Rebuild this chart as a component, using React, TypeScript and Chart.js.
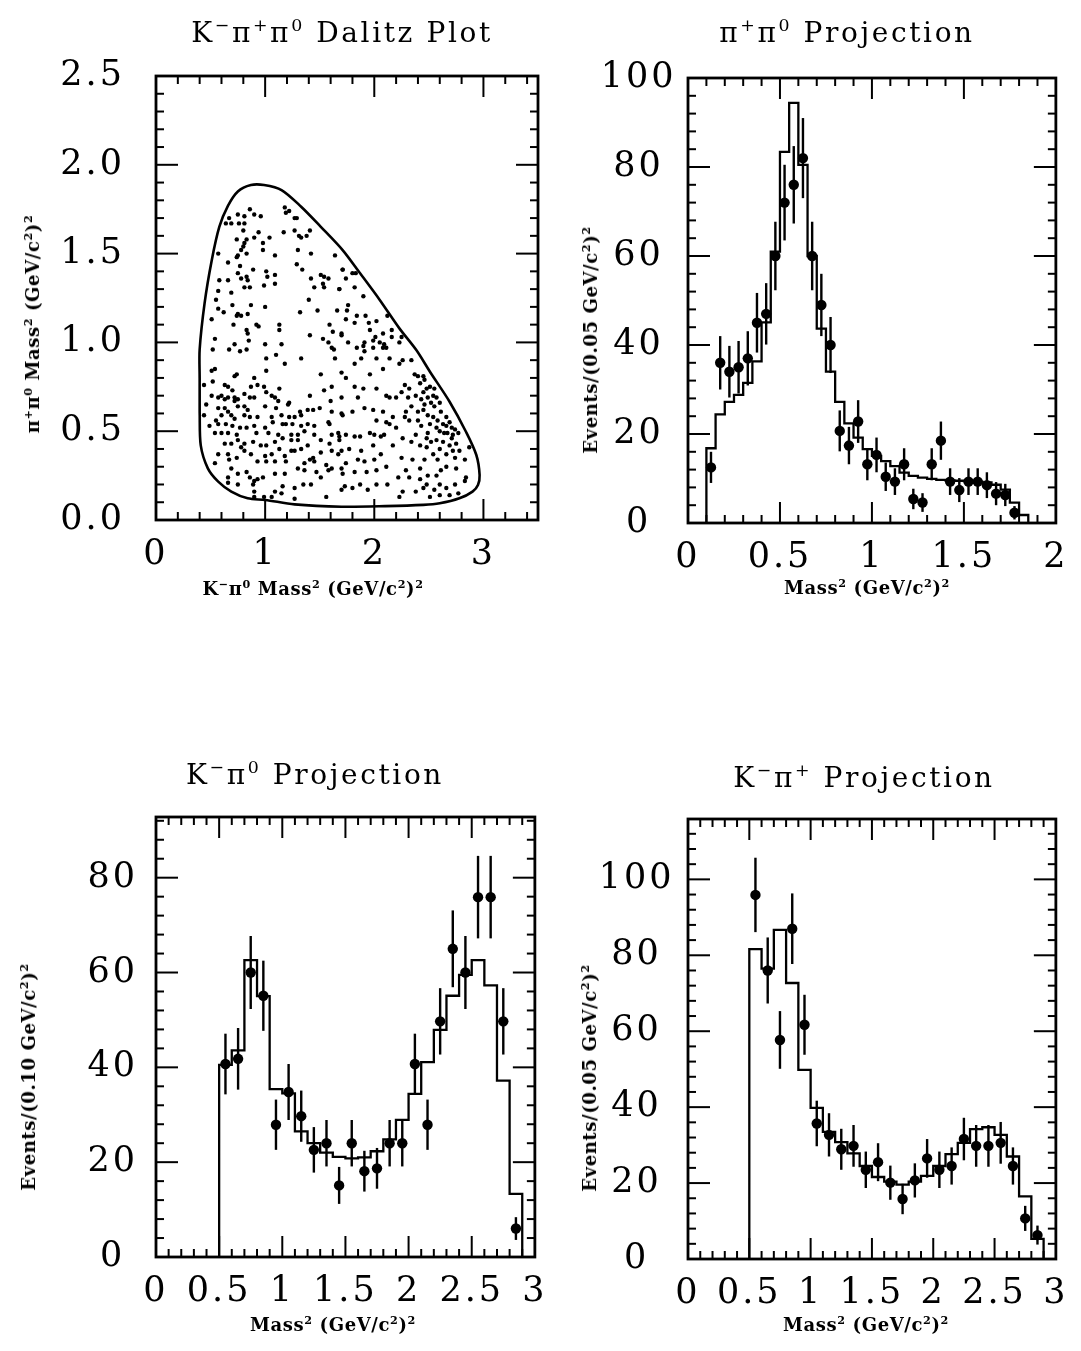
import React, { useEffect, useRef } from 'react';
import { Chart, registerables } from 'chart.js';

Chart.register(...registerables);

const SERIF = '"DejaVu Serif", serif';

// ---------------- Dalitz plot data ----------------
// [K-pi0 mass^2, pi+pi0 mass^2] of each event
const dalitzEvents: number[][] = [
  [0.86,1.75],[0.90,1.72],[0.75,1.72],[0.81,1.71],[0.96,1.71],[0.67,1.70],[0.64,1.67],[0.69,1.67],[0.76,1.67],[0.81,1.67],
  [1.18,1.76],[1.22,1.74],[1.19,1.73],[1.27,1.70],[1.29,1.70],[0.80,1.63],[0.94,1.62],[1.17,1.62],[1.27,1.63],[1.31,1.60],
  [1.33,1.59],[1.38,1.60],[1.41,1.63],[0.74,1.58],[0.83,1.58],[0.81,1.56],[0.90,1.59],[1.04,1.59],[0.98,1.56],[0.80,1.54],
  [0.78,1.52],[0.75,1.49],[0.74,1.48],[0.83,1.50],[0.98,1.52],[1.09,1.49],[1.30,1.52],[1.42,1.50],[1.64,1.49],[0.57,1.50],
  [0.66,1.45],[0.77,1.43],[0.89,1.41],[1.01,1.40],[1.02,1.37],[1.09,1.38],[1.29,1.44],[1.34,1.41],[1.71,1.41],[0.75,1.39],
  [0.58,1.35],[0.66,1.35],[0.78,1.36],[0.83,1.37],[0.84,1.35],[0.81,1.31],[0.86,1.31],[0.99,1.32],[1.09,1.33],[1.42,1.36],
  [1.51,1.38],[1.54,1.37],[1.58,1.36],[1.53,1.33],[1.54,1.31],[1.45,1.31],[1.68,1.30],[0.57,1.29],[0.69,1.28],[0.55,1.24],
  [0.70,1.21],[0.87,1.21],[1.00,1.20],[0.57,1.19],[0.62,1.17],[0.75,1.16],[0.74,1.15],[0.78,1.15],[0.84,1.16],[1.32,1.17],
  [1.40,1.24],[1.48,1.18],[1.66,1.18],[0.51,1.13],[0.71,1.10],[0.92,1.10],[0.94,1.09],[0.83,1.07],[0.84,1.05],[1.13,1.10],
  [1.13,1.07],[1.59,1.10],[1.62,1.06],[1.70,1.04],[1.41,1.04],[1.53,1.02],[1.58,1.00],[0.54,1.02],[0.72,0.99],[0.85,1.01],
  [1.00,0.99],[1.15,0.99],[1.61,0.97],
  [1.71,1.41],[1.80,1.39],[1.83,1.39],[1.74,1.36],[1.68,1.30],[1.82,1.31],[1.90,1.26],[1.76,1.21],[1.75,1.18],[1.84,1.15],
  [1.92,1.15],[2.02,1.12],[1.74,1.13],[1.82,1.11],[1.95,1.11],[1.96,1.07],[2.08,1.05],[2.16,1.07],[2.16,1.03],[1.70,1.05],
  [1.76,1.00],[1.91,1.00],[1.90,0.98],[1.99,1.01],[2.01,1.03],[2.05,1.00],[2.09,0.99],[2.23,1.00],[2.25,1.03],[2.12,1.15],
  [1.84,0.97],[2.11,0.97],
  [0.52,0.96],[0.67,0.96],[0.77,0.95],[0.83,0.96],[1.01,0.91],[1.10,0.93],[1.18,0.88],[1.33,0.91],[1.63,0.96],[1.64,0.91],
  [0.54,0.85],[0.51,0.84],[1.01,0.84],[1.70,0.83],[1.51,0.82],[0.72,0.81],[0.74,0.82],[0.52,0.78],[0.44,0.76],[0.63,0.76],
  [0.66,0.75],[0.70,0.73],[0.90,0.80],[0.87,0.75],[0.93,0.76],[0.99,0.75],[1.13,0.74],[1.01,0.72],[1.06,0.70],[1.61,0.75],
  [1.54,0.73],[0.51,0.70],[0.60,0.70],[0.66,0.69],[0.72,0.69],[0.57,0.69],[0.63,0.68],[0.81,0.71],[0.86,0.69],[0.90,0.69],
  [1.09,0.69],[1.12,0.67],[1.22,0.66],[1.41,0.70],[1.60,0.67],[1.70,0.69],[0.72,0.67],[0.75,0.68],[0.46,0.65],[0.57,0.63],
  [0.63,0.63],[0.66,0.61],[0.69,0.59],[0.60,0.59],[0.75,0.64],[0.81,0.64],[0.84,0.62],[1.00,0.64],[1.10,0.63],[1.21,0.65],
  [1.32,0.61],[1.39,0.62],[1.44,0.62],[1.50,0.63],[1.61,0.61],[1.70,0.60],[0.44,0.59],[0.55,0.56],[0.72,0.57],[0.81,0.59],
  [0.86,0.58],[0.93,0.58],[1.06,0.58],[1.15,0.59],[1.22,0.58],[1.27,0.58],[1.33,0.59],[1.39,0.54],[1.58,0.55],[1.59,0.54],
  [1.45,0.53],[0.49,0.53],[0.57,0.54],[0.64,0.54],[0.70,0.53],[0.77,0.52],[0.83,0.52],[0.90,0.53],[1.00,0.52],[1.07,0.55],
  [1.16,0.54],[1.19,0.54],[1.25,0.54],[1.33,0.53],[0.60,0.49],[0.54,0.49],[0.66,0.49],[0.74,0.48],[0.92,0.49],[1.03,0.49],
  [1.12,0.48],[1.24,0.48],[1.30,0.48],[1.36,0.50],[1.45,0.48],[1.61,0.48],[1.67,0.49],[0.63,0.43],[0.69,0.43],[0.75,0.45],
  [0.81,0.43],[0.89,0.44],[0.96,0.42],[1.01,0.42],[1.09,0.44],[1.16,0.46],[1.24,0.45],[1.30,0.45],[1.39,0.42],[1.51,0.45],
  [1.59,0.43],[1.68,0.45],[0.57,0.37],[0.66,0.37],[0.78,0.41],[0.81,0.39],[0.87,0.37],[1.00,0.36],[1.06,0.37],[1.18,0.36],
  [1.24,0.39],[1.27,0.39],[1.13,0.40],[1.33,0.40],[1.41,0.34],[1.44,0.35],[1.51,0.38],[1.61,0.39],[1.67,0.37],[0.54,0.32],
  [0.67,0.34],[0.74,0.35],[0.93,0.33],[1.01,0.33],[1.09,0.33],[1.19,0.33],[1.36,0.32],[1.45,0.33],[1.56,0.31],[0.69,0.29],
  [0.75,0.26],[0.83,0.27],[0.86,0.24],[0.90,0.22],[0.93,0.23],[0.98,0.24],[1.09,0.26],[1.18,0.26],[0.66,0.24],[1.30,0.29],
  [1.36,0.28],[1.47,0.27],[1.58,0.28],[1.61,0.29],[1.70,0.29],[1.51,0.24],[0.75,0.20],[0.66,0.21],[0.89,0.20],[1.09,0.16],
  [1.16,0.19],[1.27,0.18],[1.35,0.20],[1.42,0.20],[1.70,0.17],[1.56,0.13],[1.06,0.13],[1.15,0.15],[1.27,0.12],[0.90,0.16],
  [0.90,0.13],[0.99,0.13],
  [1.91,0.95],[1.99,0.97],[2.08,0.97],[2.14,0.91],[2.02,0.91],[1.88,0.91],[1.82,0.88],[2.08,0.85],[2.26,0.90],[2.34,0.90],
  [2.23,0.88],[2.37,0.82],[2.45,0.81],[2.42,0.77],[2.46,0.79],[2.51,0.75],[2.45,0.72],[2.54,0.70],[2.49,0.69],[2.57,0.69],
  [2.60,0.66],[2.55,0.64],[2.38,0.70],[2.32,0.74],[2.28,0.76],[2.25,0.72],[2.31,0.69],[2.34,0.64],[2.29,0.61],[2.40,0.61],
  [2.45,0.62],[2.49,0.59],[2.54,0.58],[2.58,0.56],[2.63,0.54],[2.66,0.53],[2.71,0.52],[2.74,0.51],[2.77,0.49],[2.60,0.50],
  [2.64,0.49],[2.71,0.46],[2.75,0.43],[2.69,0.42],[2.60,0.40],[2.74,0.35],[2.66,0.37],[2.54,0.37],[2.52,0.44],[2.49,0.49],
  [2.38,0.48],[2.43,0.53],[2.40,0.56],[2.32,0.56],[2.28,0.58],[2.17,0.58],[2.11,0.55],[2.14,0.54],[2.20,0.52],[2.02,0.56],
  [2.08,0.61],[1.99,0.62],[1.91,0.63],[1.80,0.61],[1.71,0.59],[2.14,0.69],[2.20,0.69],[2.11,0.70],[2.02,0.74],[1.90,0.74],
  [1.82,0.75],[1.74,0.80],[1.96,0.82],[1.85,0.69],[1.68,0.47],[1.74,0.48],[1.82,0.47],[1.87,0.47],[1.96,0.49],[2.00,0.48],
  [2.06,0.47],[2.09,0.48],[2.17,0.42],[2.26,0.46],[2.34,0.44],[2.42,0.42],[2.48,0.41],[2.57,0.45],[1.99,0.42],[2.06,0.37],
  [2.00,0.34],[1.91,0.33],[1.85,0.34],[1.74,0.32],[1.71,0.26],[1.82,0.27],[1.93,0.27],[2.02,0.28],[2.11,0.30],[2.25,0.35],
  [2.35,0.34],[2.46,0.34],[2.42,0.29],[2.29,0.28],[2.22,0.24],[2.32,0.24],[2.42,0.23],[2.49,0.25],[2.57,0.25],[2.61,0.28],
  [2.66,0.30],[2.75,0.29],[2.83,0.34],[2.84,0.24],[2.83,0.22],[2.74,0.20],[2.66,0.18],[2.60,0.20],[2.55,0.17],[2.45,0.18],
  [2.38,0.16],[2.26,0.16],[2.23,0.13],[2.12,0.20],[2.02,0.20],[1.94,0.17],[1.87,0.20],[1.80,0.18],[1.73,0.19],[2.69,0.14],
  [2.77,0.15],[2.60,0.14],[2.51,0.13],[2.48,0.20],[2.58,0.34],[2.78,0.39],[2.72,0.39],[2.87,0.41],[1.70,0.39],[1.77,0.40],
  [1.88,0.39],[2.40,0.81],[2.48,0.74],[2.55,0.74],[2.52,0.66],[2.61,0.61],[2.46,0.65],[2.66,0.58],[2.69,0.55],[2.51,0.54],
  [2.57,0.52],[2.67,0.49],[2.72,0.48],[2.63,0.44],[2.48,0.46],[2.43,0.68],
];

// kinematic boundary of the Dalitz plot
const boundaryKPi0 = [0.40,0.40,0.40,0.445,0.51,0.58,0.66,0.75,0.87,0.99,1.15,1.33,1.51,1.71,1.87,2.05,2.23,2.385,2.51,2.69,2.84,2.935,2.965,2.95,2.90,2.78,2.60,2.45,2.10,1.70,1.27,1.00,0.84,0.69,0.57,0.475,0.41,0.40];
const boundaryPiPi = [0.61,0.80,0.96,1.22,1.46,1.65,1.77,1.85,1.886,1.886,1.858,1.764,1.651,1.52,1.389,1.239,1.079,0.957,0.835,0.666,0.497,0.366,0.253,0.197,0.160,0.122,0.094,0.085,0.078,0.075,0.088,0.113,0.122,0.160,0.216,0.291,0.42,0.61];

const dalitzXTicks = [0, 1, 2, 3];
const dalitzYTicks = [0, 0.5, 1.0, 1.5, 2.0, 2.5];

// ---------------- pi+ pi0 projection ----------------
const pipiEdges = [0.10,0.15,0.20,0.25,0.30,0.35,0.40,0.45,0.50,0.55,0.60,0.65,0.70,0.75,0.80,0.85,0.90,0.95,1.00,1.05,1.10,1.15,1.20,1.25,1.30,1.35,1.40,1.45,1.50,1.55,1.60,1.65,1.70,1.75,1.80,1.85];
const pipiFit = [16.8,24.4,27.2,28.8,31.5,36.3,45.1,61,83.4,94.4,80.5,60,43.7,34,27.2,22.4,19.2,16.6,15.1,13.9,12.8,11.3,10.6,10.2,9.9,9.7,9.6,9.5,9.4,9.3,9.1,8.6,7.5,4.6,1.8];
const pipiMass = [0.125,0.175,0.225,0.275,0.325,0.375,0.425,0.475,0.525,0.575,0.625,0.675,0.725,0.775,0.825,0.875,0.925,0.975,1.025,1.075,1.125,1.175,1.225,1.275,1.325,1.375,1.425,1.475,1.525,1.575,1.625,1.675,1.725,1.775];
const pipiEvents = [12.5,36,34,35,37,45,47,60,72,76,82,60,49,40,20.7,17.4,22.8,13.2,15.3,10.4,9.3,13.2,5.4,4.6,13.2,18.5,9.3,7.4,9.3,9.3,8.5,6.6,6.3,2.3];
const pipiErrors = [3.5,6,5.8,5.9,6.1,6.7,6.9,7.7,8.5,8.7,9,7.7,7,6.3,4.6,4.2,4.8,3.6,3.9,3.2,3,3.6,2.3,2.1,3.6,4.3,3,2.7,3,3,2.9,2.6,2.5,1.5];
const pipiXTicks = [0, 0.5, 1, 1.5, 2];
const pipiYTicks = [0, 20, 40, 60, 80, 100];

// ---------------- K- pi0 projection ----------------
const kpi0Edges = [0.5,0.6,0.7,0.8,0.9,1.0,1.1,1.2,1.3,1.4,1.5,1.6,1.7,1.8,1.9,2.0,2.1,2.2,2.3,2.4,2.5,2.6,2.7,2.8,2.9];
const kpi0Fit = [40.5,43.6,62.6,55,35.4,34.5,26.5,24,22,21.1,20.8,21,22.3,24.8,28.9,34.4,41.1,47.9,55.1,59.5,62.6,57.3,37.2,13.3];
const kpi0Mass = [0.55,0.65,0.75,0.85,0.95,1.05,1.15,1.25,1.35,1.45,1.55,1.65,1.75,1.85,1.95,2.05,2.15,2.25,2.35,2.45,2.55,2.65,2.75,2.85];
const kpi0Events = [40.7,41.8,60,55.1,27.9,34.8,29.7,22.6,24,15.1,24,18.1,18.7,24,24,40.7,27.9,49.7,65,60,75.9,75.9,49.7,6];
const kpi0Errors = [6.4,6.5,7.7,7.4,5.3,5.9,5.4,4.8,4.9,3.9,4.9,4.3,4.3,4.9,4.9,6.4,5.3,7,8.1,7.7,8.7,8.7,7,2.4];
const kpi0XTicks = [0, 0.5, 1, 1.5, 2, 2.5, 3];
const kpi0YTicks = [0, 20, 40, 60, 80];

// ---------------- K- pi+ projection ----------------
const kpipEdges = [0.5,0.6,0.7,0.8,0.9,1.0,1.1,1.2,1.3,1.4,1.5,1.6,1.7,1.8,1.9,2.0,2.1,2.2,2.3,2.4,2.5,2.6,2.7,2.8,2.9];
const kpipFit = [81.6,76.5,86.7,72.7,49.8,39.8,33.5,30.8,27.8,24.5,21.6,20.4,19.6,20.4,21.9,24.5,27.6,30.6,34.2,34.7,32.7,27,16.5,5.3];
const kpipMass = [0.55,0.65,0.75,0.85,0.95,1.05,1.15,1.25,1.35,1.45,1.55,1.65,1.75,1.85,1.95,2.05,2.15,2.25,2.35,2.45,2.55,2.65,2.75,2.85];
const kpipEvents = [95.9,76,57.7,87,61.7,35.7,32.7,28.9,29.8,23.5,25.5,20.1,15.8,20.7,26.5,23.5,24.5,31.6,29.8,29.8,30.6,24.5,10.7,6.3];
const kpipErrors = [9.8,8.7,7.6,9.3,7.9,6,5.7,5.4,5.5,4.8,5,4.5,4,4.5,5.1,4.8,4.9,5.6,5.5,5.5,5.5,4.9,3.3,2.5];
const kpipXTicks = [0, 0.5, 1, 1.5, 2, 2.5, 3];
const kpipYTicks = [0, 20, 40, 60, 80, 100];

// ---------------- plugins ----------------
const frameTicksPlugin = {
  id: 'frameTicks',
  beforeDraw(chart: any) {
    chart.ctx.letterSpacing = '3px';
  },
  afterDraw(chart: any, _args: any, opts: any) {
    const { ctx, chartArea: a } = chart;
    const x = chart.scales.x;
    const y = chart.scales.y;
    ctx.save();
    ctx.letterSpacing = '0px';
    ctx.strokeStyle = '#000';
    ctx.lineCap = 'butt';
    ctx.lineWidth = 2;
    const line = (x1: number, y1: number, x2: number, y2: number) => {
      ctx.beginPath(); ctx.moveTo(x1, y1); ctx.lineTo(x2, y2); ctx.stroke();
    };
    const isMajor = (list: number[], v: number, step: number) => list.some((m) => Math.abs(m - v) < step * 0.05);
    for (let i = 1; x.min + i * opts.xMinor < x.max - opts.xMinor * 0.05; i++) {
      const v = x.min + i * opts.xMinor;
      const len = isMajor(opts.xMajor, v, opts.xMinor) ? 21 : 8;
      const px = x.getPixelForValue(v);
      line(px, a.bottom, px, a.bottom - len);
      line(px, a.top, px, a.top + len);
    }
    for (let i = 1; y.min + i * opts.yMinor < y.max - opts.yMinor * 0.05; i++) {
      const v = y.min + i * opts.yMinor;
      const len = isMajor(opts.yMajor, v, opts.yMinor) ? 22 : 8;
      const py = y.getPixelForValue(v);
      line(a.left, py, a.left + len, py);
      line(a.right, py, a.right - len, py);
    }
    ctx.lineWidth = 2.8;
    ctx.strokeRect(a.left, a.top, a.right - a.left, a.bottom - a.top);
    ctx.restore();
  },
};

const errorBarPlugin = {
  id: 'errorBars',
  afterDatasetsDraw(chart: any) {
    const { ctx } = chart;
    const x = chart.scales.x;
    const y = chart.scales.y;
    chart.data.datasets.forEach((ds: any) => {
      if (!ds.errors) return;
      ctx.save();
      ctx.strokeStyle = '#000';
      ctx.lineWidth = 2.4;
      ds.data.forEach((p: any, i: number) => {
        const e = ds.errors[i];
        const px = x.getPixelForValue(p.x);
        ctx.beginPath();
        ctx.moveTo(px, y.getPixelForValue(p.y - e));
        ctx.lineTo(px, y.getPixelForValue(p.y + e));
        ctx.stroke();
      });
      ctx.restore();
    });
  },
};

// ---------------- helpers ----------------
function stepPoints(edges: number[], values: number[]) {
  const pts: { x: number; y: number }[] = [{ x: edges[0], y: 0 }];
  values.forEach((v, i) => pts.push({ x: edges[i], y: v }));
  pts.push({ x: edges[edges.length - 1], y: 0 });
  return pts;
}

function projectionDatasets(edges: number[], fit: number[], mass: number[], events: number[], errors: number[]) {
  return [
    {
      type: 'line',
      data: stepPoints(edges, fit),
      stepped: true,
      borderColor: '#000',
      borderWidth: 2.3,
      pointRadius: 0,
      fill: false,
    },
    {
      type: 'scatter',
      data: mass.map((m, i) => ({ x: m, y: events[i] })),
      errors,
      pointRadius: 5.2,
      pointBackgroundColor: '#000',
      pointBorderColor: '#000',
      pointBorderWidth: 0,
    },
  ];
}

type Spec = {
  left: number; top: number; width: number; height: number;
  area: { l: number; r: number; t: number; b: number };
  xMin: number; xMax: number; yMin: number; yMax: number;
  xTicks: number[]; yTicks: number[]; xMinor: number; yMinor: number;
  yFmt: (v: number) => string; yPad: number; yCross: 'near' | 'center';
  datasets: any[];
};

function buildConfig(s: Spec): any {
  const font = { family: SERIF, size: 35 };
  return {
    type: 'scatter',
    data: { datasets: s.datasets },
    plugins: [frameTicksPlugin, errorBarPlugin],
    options: {
      animation: false,
      responsive: false,
      maintainAspectRatio: false,
      events: [],
      layout: {
        autoPadding: false,
        padding: {
          top: s.area.t - s.top,
          left: 0,
          right: s.left + s.width - s.area.r,
          bottom: s.top + s.height - s.area.b - 60,
        },
      },
      plugins: {
        legend: { display: false },
        tooltip: { enabled: false },
        title: { display: false },
        frameTicks: { xMinor: s.xMinor, yMinor: s.yMinor, xMajor: s.xTicks, yMajor: s.yTicks },
      },
      scales: {
        x: {
          type: 'linear',
          min: s.xMin,
          max: s.xMax,
          grid: { display: false, drawTicks: false },
          border: { display: false },
          afterBuildTicks: (ax: any) => { ax.ticks = s.xTicks.map((v) => ({ value: v })); },
          afterFit: (ax: any) => { ax.height = 60; },
          ticks: {
            autoSkip: false, maxRotation: 0, minRotation: 0, padding: 14, color: '#000', font,
            callback: (v: any) => String(v),
          },
        },
        y: {
          type: 'linear',
          min: s.yMin,
          max: s.yMax,
          grid: { display: false, drawTicks: false },
          border: { display: false },
          afterBuildTicks: (ax: any) => { ax.ticks = s.yTicks.map((v) => ({ value: v })); },
          afterFit: (ax: any) => { ax.width = s.area.l - s.left; },
          ticks: {
            autoSkip: false, padding: s.yPad, crossAlign: s.yCross, color: '#000', font,
            callback: (v: any) => s.yFmt(Number(v)),
          },
        },
      },
    },
  };
}

const specs: Spec[] = [
  {
    left: 0, top: 0, width: 560, height: 620,
    area: { l: 156, r: 538, t: 76, b: 520 },
    xMin: 0, xMax: 3.5, yMin: 0, yMax: 2.5,
    xTicks: dalitzXTicks, yTicks: dalitzYTicks, xMinor: 0.2, yMinor: 0.1,
    yFmt: (v) => v.toFixed(1), yPad: 31, yCross: 'near',
    datasets: [
      {
        type: 'scatter',
        data: dalitzEvents.map((p) => ({ x: p[0], y: p[1] })),
        pointRadius: 2.2,
        pointBackgroundColor: '#000',
        pointBorderWidth: 0,
      },
      {
        type: 'line',
        data: boundaryKPi0.map((v, i) => ({ x: v, y: boundaryPiPi[i] })),
        borderColor: '#000',
        borderWidth: 2.6,
        pointRadius: 0,
        tension: 0.3,
        fill: false,
      },
    ],
  },
  {
    left: 540, top: 0, width: 541, height: 620,
    area: { l: 688, r: 1070, t: 78, b: 523 },
    xMin: 0, xMax: 2, yMin: 0, yMax: 100,
    xTicks: pipiXTicks, yTicks: pipiYTicks, xMinor: 0.1, yMinor: 4,
    yFmt: (v) => String(v), yPad: 16, yCross: 'center',
    datasets: projectionDatasets(pipiEdges, pipiFit, pipiMass, pipiEvents, pipiErrors),
  },
  {
    left: 0, top: 740, width: 560, height: 611,
    area: { l: 156, r: 538, t: 817, b: 1257 },
    xMin: 0, xMax: 3, yMin: 0, yMax: 92.8,
    xTicks: kpi0XTicks, yTicks: kpi0YTicks, xMinor: 0.1, yMinor: 4,
    yFmt: (v) => String(v), yPad: 21, yCross: 'center',
    datasets: projectionDatasets(kpi0Edges, kpi0Fit, kpi0Mass, kpi0Events, kpi0Errors),
  },
  {
    left: 540, top: 740, width: 541, height: 611,
    area: { l: 688, r: 1068, t: 819, b: 1259 },
    xMin: 0, xMax: 3, yMin: 0, yMax: 115.9,
    xTicks: kpipXTicks, yTicks: kpipYTicks, xMinor: 0.1, yMinor: 4,
    yFmt: (v) => String(v), yPad: 18, yCross: 'center',
    datasets: projectionDatasets(kpipEdges, kpipFit, kpipMass, kpipEvents, kpipErrors),
  },
];

function Panel({ spec }: { spec: Spec }) {
  const ref = useRef<HTMLCanvasElement>(null);
  useEffect(() => {
    const chart = new Chart(ref.current as HTMLCanvasElement, buildConfig(spec));
    return () => chart.destroy();
  }, [spec]);
  return (
    <canvas
      ref={ref}
      width={spec.width}
      height={spec.height}
      style={{ position: 'absolute', left: spec.left, top: spec.top, width: spec.width, height: spec.height }}
    />
  );
}

const Sup = ({ children }: { children: React.ReactNode }) => (
  <sup style={{ fontSize: '0.62em', verticalAlign: '0.62em', lineHeight: 0 }}>{children}</sup>
);

function Label({ x, y, rotate, kind, children }: { x: number; y: number; rotate?: boolean; kind: 'title' | 'axis'; children: React.ReactNode }) {
  const style: React.CSSProperties = {
    position: 'absolute',
    left: x,
    top: y,
    transform: `translate(-50%, -50%)${rotate ? ' rotate(-90deg)' : ''}`,
    whiteSpace: 'nowrap',
    fontFamily: SERIF,
    color: '#000',
    lineHeight: 1,
    fontSize: kind === 'title' ? 28 : 18,
    fontWeight: kind === 'title' ? 'normal' : 'bold',
    letterSpacing: kind === 'title' ? '2.6px' : '0.6px',
  };
  return <div style={style}>{children}</div>;
}

export default function App() {
  return (
    <div style={{ position: 'absolute', left: 0, top: 0, width: 1081, height: 1351, background: '#fff', overflow: 'hidden' }}>
      {specs.map((s, i) => <Panel key={i} spec={s} />)}

      <Label x={342} y={33} kind="title">K<Sup>−</Sup>π<Sup>+</Sup>π<Sup>0</Sup> Dalitz Plot</Label>
      <Label x={847} y={33} kind="title">π<Sup>+</Sup>π<Sup>0</Sup> Projection</Label>
      <Label x={315} y={775} kind="title">K<Sup>−</Sup>π<Sup>0</Sup> Projection</Label>
      <Label x={864} y={778} kind="title">K<Sup>−</Sup>π<Sup>+</Sup> Projection</Label>

      <Label x={313} y={589} kind="axis">K<Sup>−</Sup>π<Sup>0</Sup> Mass<Sup>2</Sup> (GeV/c<Sup>2</Sup>)<Sup>2</Sup></Label>
      <Label x={867} y={588} kind="axis">Mass<Sup>2</Sup> (GeV/c<Sup>2</Sup>)<Sup>2</Sup></Label>
      <Label x={333} y={1325} kind="axis">Mass<Sup>2</Sup> (GeV/c<Sup>2</Sup>)<Sup>2</Sup></Label>
      <Label x={866} y={1325} kind="axis">Mass<Sup>2</Sup> (GeV/c<Sup>2</Sup>)<Sup>2</Sup></Label>

      <Label x={33} y={324} rotate kind="axis">π<Sup>+</Sup>π<Sup>0</Sup> Mass<Sup>2</Sup> (GeV/c<Sup>2</Sup>)<Sup>2</Sup></Label>
      <Label x={591} y={340} rotate kind="axis">Events/(0.05 GeV/c<Sup>2</Sup>)<Sup>2</Sup></Label>
      <Label x={29} y={1077} rotate kind="axis">Events/(0.10 GeV/c<Sup>2</Sup>)<Sup>2</Sup></Label>
      <Label x={590} y={1078} rotate kind="axis">Events/(0.05 GeV/c<Sup>2</Sup>)<Sup>2</Sup></Label>
    </div>
  );
}
